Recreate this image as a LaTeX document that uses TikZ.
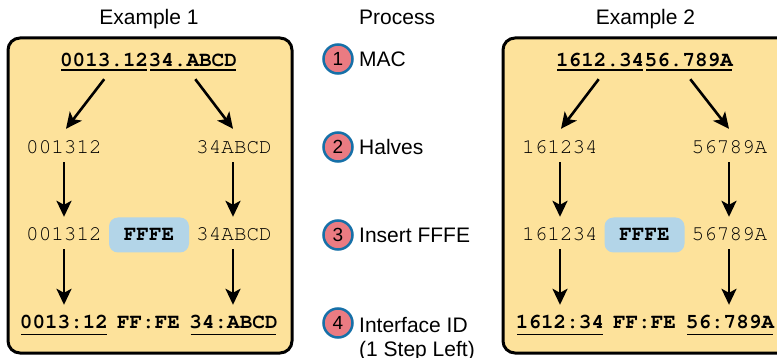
\documentclass[tikz,border=0pt]{standalone}
\usepackage[T1,TU]{fontenc}
\usepackage{fontspec}
\setmainfont{Liberation Sans}
\usetikzlibrary{arrows.meta}
\newcommand\mycour{\fontencoding{T1}\fontfamily{pcr}\fontsize{21}{24}\selectfont}
\definecolor{boxfill}{RGB}{253,226,155}
\definecolor{fffefill}{RGB}{179,213,232}
\definecolor{circfill}{RGB}{234,123,130}
\definecolor{circline}{RGB}{22,112,168}
\begin{document}
\begin{tikzpicture}[x=1pt,y=-1pt,
  mono/.style={inner sep=0pt, text height=13pt, text depth=0pt, font=\mycour},
  monob/.style={inner sep=0pt, text height=13pt, text depth=0pt, font=\mycour\bfseries},
  sans/.style={inner sep=0pt, font=\fontsize{21}{25}\selectfont},
  arr/.style={line width=2.6pt, -{Stealth[length=16pt,width=15pt,inset=4pt]}},
  ul/.style={line width=1.4pt},
  panel/.style={draw=black, line width=3pt, rounded corners=12pt, fill=boxfill},
  fffe/.style={fill=fffefill, rounded corners=9pt, minimum width=80pt, minimum height=35pt, inner sep=0pt, font=\mycour\bfseries},
  stepnum/.style={circle, draw=circline, fill=circfill, line width=2.5pt, minimum size=29pt, inner sep=0pt, font=\fontsize{19}{22}\selectfont},
]
\clip (0,0) rectangle (777,358);
\path[panel] (8,38) rectangle (292,353);
\path[panel] (503,38) rectangle (800,353);

% titles
\node[sans, anchor=base] (t1) at (149,25) {Example 1};
\node[sans, anchor=base west] (tp) at (359,25) {Process};
\node[sans, anchor=base] (t2) at (645.5,25) {Example 2};

% Example 1
\node[monob, anchor=base east] (a1) at (148.5,67) {0013.12};
\node[monob, anchor=base west] (a2) at (148.5,67) {34.ABCD};
\node[mono, anchor=base] (b1) at (64,154) {001312};
\node[mono, anchor=base] (b2) at (234,154) {34ABCD};
\node[mono, anchor=base] (c1) at (64,241) {001312};
\node[mono, anchor=base] (c2) at (234,241) {34ABCD};
\node[fffe] (f1) at (149,235) {FFFE};
\node[monob, anchor=base] (d1) at (64,329) {0013:12};
\node[monob, anchor=base] (d0) at (148.5,329) {FF:FE};
\node[monob, anchor=base] (d2) at (233.5,329) {34:ABCD};

\draw[ul] ([xshift=1.5pt,yshift=-3pt]a1.south west) -- ([xshift=-1.5pt,yshift=-3pt]a1.south east);
\draw[ul] ([xshift=1.5pt,yshift=-3pt]a2.south west) -- ([xshift=-1.5pt,yshift=-3pt]a2.south east);
\draw[ul] ([xshift=1.5pt,yshift=-5pt]d1.south west) -- ([xshift=-1.5pt,yshift=-5pt]d1.south east);
\draw[ul] ([xshift=1.5pt,yshift=-5pt]d2.south west) -- ([xshift=-1.5pt,yshift=-5pt]d2.south east);

\draw[arr] ([yshift=-12pt]a1.south) -- ([xshift=2pt,yshift=12pt]b1.north);
\draw[arr] ([xshift=2.5pt,yshift=-12pt]a2.south) -- ([xshift=-1pt,yshift=12pt]b2.north);
\draw[arr] ([yshift=-8pt]b1.south) -- ([yshift=11pt]c1.north);
\draw[arr] ([xshift=-1pt,yshift=-8pt]b2.south) -- ([xshift=-1pt,yshift=11pt]c2.north);
\draw[arr] ([yshift=-8pt]c1.south) -- ([yshift=11pt]d1.north);
\draw[arr] ([xshift=-1pt,yshift=-8pt]c2.south) -- ([xshift=-0.5pt,yshift=11pt]d2.north);

% Example 2
\node[monob, anchor=base east] (e1) at (644.5,67) {1612.34};
\node[monob, anchor=base west] (e2) at (644.5,67) {56.789A};
\node[mono, anchor=base] (g1) at (560,154) {161234};
\node[mono, anchor=base] (g2) at (729.5,154) {56789A};
\node[mono, anchor=base] (h1) at (560,241) {161234};
\node[mono, anchor=base] (h2) at (729.5,241) {56789A};
\node[fffe] (f2) at (644.5,235) {FFFE};
\node[monob, anchor=base] (k1) at (560,329) {1612:34};
\node[monob, anchor=base] (k0) at (644.5,329) {FF:FE};
\node[monob, anchor=base] (k2) at (730,329) {56:789A};

\draw[ul] ([xshift=1.5pt,yshift=-3pt]e1.south west) -- ([xshift=-1.5pt,yshift=-3pt]e1.south east);
\draw[ul] ([xshift=1.5pt,yshift=-3pt]e2.south west) -- ([xshift=-1.5pt,yshift=-3pt]e2.south east);
\draw[ul] ([xshift=1.5pt,yshift=-5pt]k1.south west) -- ([xshift=-1.5pt,yshift=-5pt]k1.south east);
\draw[ul] ([xshift=1.5pt,yshift=-5pt]k2.south west) -- ([xshift=-1.5pt,yshift=-5pt]k2.south east);

\draw[arr] ([xshift=-1.5pt,yshift=-12pt]e1.south) -- ([xshift=1pt,yshift=12pt]g1.north);
\draw[arr] ([xshift=1.5pt,yshift=-12pt]e2.south) -- ([xshift=-0.5pt,yshift=12pt]g2.north);
\draw[arr] ([yshift=-8pt]g1.south) -- ([yshift=11pt]h1.north);
\draw[arr] ([xshift=-0.5pt,yshift=-8pt]g2.south) -- ([xshift=-0.5pt,yshift=11pt]h2.north);
\draw[arr] ([yshift=-8pt]h1.south) -- ([yshift=11pt]k1.north);
\draw[arr] ([xshift=-0.5pt,yshift=-8pt]h2.south) -- ([xshift=-1pt,yshift=11pt]k2.north);

% Process
\node[stepnum] (s1) at (338,59) {1};
\node[sans, anchor=base west] (l1) at (359,67) {MAC};
\node[stepnum] (s2) at (338,147) {2};
\node[sans, anchor=base west] (l2) at (359,155) {Halves};
\node[stepnum] (s3) at (338,235) {3};
\node[sans, anchor=base west] (l3) at (359,243) {Insert FFFE};
\node[stepnum] (s4) at (338,323) {4};
\node[sans, anchor=base west] (l4) at (359,332) {Interface ID};
\node[sans, anchor=base west] (l5) at (359,356) {(1 Step Left)};
\end{tikzpicture}
\end{document}
